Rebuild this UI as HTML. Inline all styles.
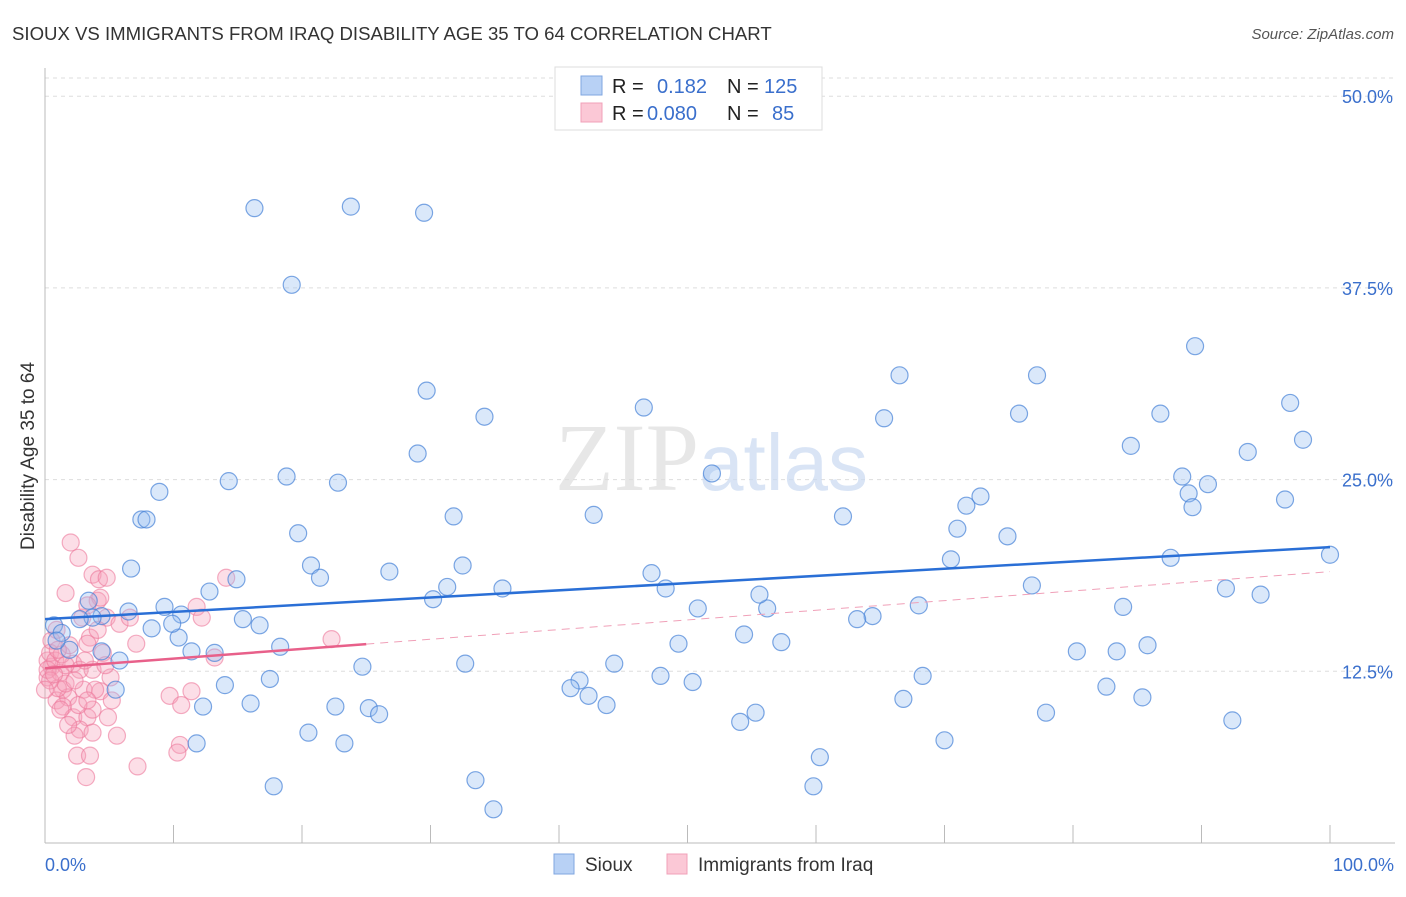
<!DOCTYPE html>
<html><head><meta charset="utf-8"><style>
body{margin:0;background:#fff;font-family:"Liberation Sans",sans-serif}
</style></head><body>
<svg id="chart" width="1406" height="892" xmlns="http://www.w3.org/2000/svg" font-family="Liberation Sans, sans-serif">
<text x="12" y="40" font-size="18.6" fill="#333">SIOUX VS IMMIGRANTS FROM IRAQ DISABILITY AGE 35 TO 64 CORRELATION CHART</text>
<text x="1394" y="39" font-size="15" fill="#555" text-anchor="end" font-style="italic">Source: ZipAtlas.com</text>
<g id="grid"></g>
<text x="555" y="490" font-size="96" fill="#ddd" font-family="Liberation Serif, serif" opacity="0.7">ZIP<tspan fill="#c9daf2" font-family="Liberation Sans, sans-serif" font-size="80">atlas</tspan></text>
<g id="axes"></g>
<g id="pts"></g>
<g id="trends"></g>
<text transform="translate(34,456) rotate(-90)" font-size="19" fill="#333" text-anchor="middle">Disability Age 35 to 64</text>
<g>
<rect x="555" y="67" width="267" height="63" fill="#fff" stroke="#ddd"/>
<rect x="581" y="76" width="21" height="19" fill="#b8d1f5" stroke="#7fa6e0"/>
<rect x="581" y="103" width="21" height="19" fill="#fbc8d6" stroke="#f0a0b8"/>
<text x="612" y="93" font-size="20" fill="#222">R =</text><text x="657" y="93" font-size="20" fill="#3a6fcc">0.182</text>
<text x="727" y="93" font-size="20" fill="#222">N =</text><text x="764" y="93" font-size="20" fill="#3a6fcc">125</text>
<text x="612" y="120" font-size="20" fill="#222">R =</text><text x="647" y="120" font-size="20" fill="#3a6fcc">0.080</text>
<text x="727" y="120" font-size="20" fill="#222">N =</text><text x="772" y="120" font-size="20" fill="#3a6fcc">85</text>
</g>
<g>
<rect x="554" y="854" width="20" height="20" fill="#b8d1f5" stroke="#7fa6e0"/>
<text x="585" y="871" font-size="19" fill="#333">Sioux</text>
<rect x="667" y="854" width="20" height="20" fill="#fbc8d6" stroke="#f0a0b8"/>
<text x="698" y="871" font-size="19" fill="#333">Immigrants from Iraq</text>
</g>
</svg>
<script>
const yTicks=[12.5,25,37.5,50];
const yTickLabels=["12.5%","25.0%","37.5%","50.0%"];
const xTickLabels=["0.0%","100.0%"];
const siouxX=[16.3,23.8,29.5,19.2,29.7,46.6,34.2,29.0,14.3,18.8,22.8,8.9,7.5,7.9,31.8,42.7,19.7,51.9,66.5,77.2,89.5,96.9,97.9,75.8,86.8,65.3,84.5,93.6,88.5,89.0,90.5,96.5,89.3,72.8,71.7,71.0,74.9,62.1,70.5,100.0,87.6,76.8,91.9,94.6,83.9,68.0,64.4,63.2,56.2,55.6,50.8,48.3,47.2,35.6,32.5,31.3,30.2,26.8,20.7,21.4,14.9,12.8,6.7,3.4,4.4,6.5,9.3,10.6,15.4,16.7,8.3,10.4,9.9,11.4,13.2,18.3,5.8,4.4,1.9,0.7,1.3,0.9,3.7,2.7,54.4,57.3,49.3,80.3,83.4,85.8,44.3,41.6,40.9,42.3,43.7,47.9,50.4,32.7,24.7,22.6,25.2,26.0,16.0,12.3,14.0,17.5,5.5,11.8,20.5,23.3,17.8,33.5,34.9,59.8,60.3,54.1,55.3,66.8,68.3,70.0,77.9,82.6,85.4,92.4];
const siouxY=[42.7,42.8,42.4,37.7,30.8,29.7,29.1,26.7,24.9,25.2,24.8,24.2,22.4,22.4,22.6,22.7,21.5,25.4,31.8,31.8,33.7,30.0,27.6,29.3,29.3,29.0,27.2,26.8,25.2,24.1,24.7,23.7,23.2,23.9,23.3,21.8,21.3,22.6,19.8,20.1,19.9,18.1,17.9,17.5,16.7,16.8,16.1,15.9,16.6,17.5,16.6,17.9,18.9,17.9,19.4,18.0,17.2,19.0,19.4,18.6,18.5,17.7,19.2,17.1,16.1,16.4,16.7,16.2,15.9,15.5,15.3,14.7,15.6,13.8,13.7,14.1,13.2,13.8,13.9,15.5,15.0,14.5,16.0,15.9,14.9,14.4,14.3,13.8,13.8,14.2,13.0,11.9,11.4,10.9,10.3,12.2,11.8,13.0,12.8,10.2,10.1,9.7,10.4,10.2,11.6,12.0,11.3,7.8,8.5,7.8,5.0,5.4,3.5,5.0,6.9,9.2,9.8,10.7,12.2,8.0,9.8,11.5,10.8,9.3];
const iraqX=[2.0,2.6,3.7,4.2,4.8,1.6,4.1,14.1,2.9,4.8,5.8,6.6,11.8,12.2,0.9,3.5,3.3,4.5,7.1,22.3,13.2,0.5,0.2,1.2,2.2,2.7,3.7,5.1,1.4,3.0,4.3,0.9,1.8,1.4,2.2,3.3,3.7,4.9,2.7,3.7,2.3,5.6,9.7,11.4,10.6,10.5,10.3,2.5,3.5,7.2,3.2,0.2,0.4,1.0,1.6,0.2,0.4,0.8,0,1.3,1.9,0.5,1.0,1.6,2.3,3.1,3.9,4.7,5.2,1.2,1.8,2.6,3.3,0.7,4.1,4.3,3.3];
const iraqY=[20.9,19.9,18.8,18.5,18.6,17.6,17.1,18.6,16.0,16.0,15.6,16.0,16.7,16.0,15.2,14.7,14.3,13.7,14.3,14.6,13.4,12.8,12.1,12.4,13.0,12.6,12.6,12.1,11.3,11.3,11.2,10.6,10.8,10.2,9.5,9.5,10.0,9.5,8.7,8.5,8.3,8.3,10.9,11.2,10.3,7.7,7.2,7.0,7.0,6.3,5.6,13.2,13.7,11.4,11.7,12.6,11.9,13.2,11.3,13.6,14.2,14.5,13.9,12.9,11.9,13.2,11.3,12.9,10.6,10.0,9.0,10.3,10.6,12.3,15.2,17.3,16.8];
const siouxTrend=[15.9,20.6];
const iraqTrend=[12.7,19.0];
const iraqSolidEnd=25;

const NS="http://www.w3.org/2000/svg";
const X0=45,X1=1330,Y0=863,YS=15.336;
const sx=v=>X0+(X1-X0)*v/100, sy=v=>Y0-v*YS;
function mk(t,a,p){const e=document.createElementNS(NS,t);for(const k in a)e.setAttribute(k,a[k]);p.appendChild(e);return e;}
const grid=document.getElementById('grid'),axes=document.getElementById('axes'),pts=document.getElementById('pts'),tr=document.getElementById('trends');
let gt=mk('line',{x1:45,x2:1395,y1:78,y2:78,stroke:'#ddd','stroke-dasharray':'4,4'},grid);

yTicks.forEach((v,i)=>{
 const l=mk('line',{x1:45,x2:1395,y1:sy(v),y2:sy(v),stroke:'#ddd','stroke-dasharray':'4,4'},grid);
 
 
 const t=mk('text',{x:1393,y:sy(v)+7,'font-size':18,fill:'#3a6fcc','text-anchor':'end'},axes);
 t.textContent=yTickLabels[i];
 
 
});
let ax=mk('line',{x1:45,x2:45,y1:68,y2:843,stroke:'#bbb'},axes);

let bx=mk('line',{x1:45,x2:1395,y1:843,y2:843,stroke:'#bbb'},axes);

for(let i=1;i<=10;i++){const t=mk('line',{x1:sx(i*10),x2:sx(i*10),y1:825,y2:843,stroke:'#bbb'},axes);
 
 }
[[0,'start',45],[1,'end',1394]].forEach(([i,a,x])=>{const t=mk('text',{x:x,y:871,'font-size':18,fill:'#3a6fcc','text-anchor':a},axes);t.textContent=xTickLabels[i];
 
 });
iraqX.forEach((v,i)=>{const c=mk('circle',{cx:sx(v),cy:sy(iraqY[i]),r:8.5,fill:'rgba(246,160,186,0.35)',stroke:'rgba(236,120,155,0.6)','stroke-width':1.2},pts);
 
 });
siouxX.forEach((v,i)=>{const c=mk('circle',{cx:sx(v),cy:sy(siouxY[i]),r:8.5,fill:'rgba(150,190,240,0.35)',stroke:'rgba(70,130,215,0.7)','stroke-width':1.2},pts);
 
 });
const iy=v=>iraqTrend[0]+(iraqTrend[1]-iraqTrend[0])*v/100;
let d=mk('line',{x1:sx(iraqSolidEnd),y1:sy(iy(iraqSolidEnd)),x2:sx(100),y2:sy(iy(100)),stroke:'#f0a0b8','stroke-width':1,'stroke-dasharray':'8,6'},tr);

let s=mk('line',{x1:sx(0),y1:sy(iy(0)),x2:sx(iraqSolidEnd),y2:sy(iy(iraqSolidEnd)),stroke:'#e8608a','stroke-width':2.5},tr);

let b=mk('line',{x1:sx(0),y1:sy(siouxTrend[0]),x2:sx(100),y2:sy(siouxTrend[1]),stroke:'#2a6fd6','stroke-width':2.5},tr);

</script>
</body></html>
